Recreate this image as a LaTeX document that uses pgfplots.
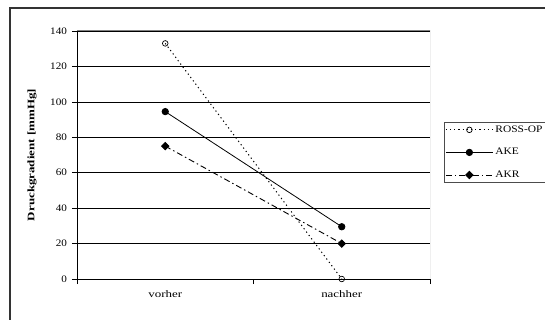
\documentclass[border=0pt]{standalone}
\usepackage{fontspec}
\setmainfont{Liberation Serif}
\usepackage{graphicx}
\usepackage{pgfplots}
\pgfplotsset{compat=1.18}
\newcommand\W[1]{\scalebox{1.3}[1]{#1}}
\newcommand\Y[1]{\scalebox{1.12}[1]{#1}}
\newcommand\LL[1]{\scalebox{1.15}[1]{#1}}
\begin{document}
\begin{tikzpicture}
\useasboundingbox (-77bp,-41bp) rectangle (468bp,279bp);
\clip (-77bp,-41bp) rectangle (468bp,279bp);
\fill[white] (-77bp,-41bp) rectangle (468bp,279bp);
\draw[line width=1.6bp, black!80] (-67bp,-80bp) -- (-67bp,271bp) -- (520bp,271bp);
\begin{axis}[
  width=353bp, height=248bp, scale only axis,
  at={(0,0)}, anchor=south west,
  xmin=0.5, xmax=2.5, ymin=0, ymax=140,
  axis lines*=left, axis line style={black, line width=0.8bp},
  xtick={0.5,1.5,2.5}, xticklabels={},
  extra x ticks={1,2}, extra x tick labels={\W{vorher},\W{nachher}},
  extra x tick style={major tick length=0pt, xticklabel style={yshift=-8bp}},
  ytick={0,20,...,140},
  yticklabel={\Y{\pgfmathprintnumber{\tick}}},
  yticklabel style={xshift=-1.5bp},
  ymajorgrids, major grid style={black, line width=0.6bp},
  tick align=outside, major tick length=5bp, tick style={black, line width=0.6bp},
  font=\fontsize{10}{12}\selectfont,
  /pgf/number format/assume math mode=true,
  ylabel={\W{\bfseries Druckgradient [mmHg]}},
  ylabel style={at={(axis description cs:-0.1275,0.5)}, anchor=center},
  legend cell align=left,
  legend style={at={(axis description cs:1.0385,0.633)}, anchor=north west,
    draw=black!70, line width=0.6bp, inner sep=1.5bp, row sep=10.5bp,
    font=\fontsize{10}{11}\selectfont},
  legend image code/.code={\draw[mark repeat=2,mark phase=2] plot coordinates {(0bp,0bp) (23.5bp,0bp) (47bp,0bp)};},
]
\addplot[black, line width=1bp, dash pattern=on 1.2bp off 3bp, mark=o,
  mark options={solid, fill=white, line width=0.7bp}, mark size=2.8bp] coordinates {(1,133) (2,0)};
\addplot[black, line width=0.8bp, mark=*, mark options={solid}, mark size=3.2bp] coordinates {(1,94.5) (2,29.5)};
\addplot[black, line width=0.9bp, dash pattern=on 6bp off 3bp on 1.5bp off 3bp, mark=square*,
  mark options={solid, rotate=45}, mark size=2.6bp] coordinates {(1,75) (2,20)};
\legend{\LL{ROSS-OP},\LL{AKE},\LL{AKR}}
\draw[black!50, line width=1bp] (rel axis cs:0,1) -- (rel axis cs:1,1) -- (rel axis cs:1,0);
\end{axis}
\end{tikzpicture}
\end{document}
